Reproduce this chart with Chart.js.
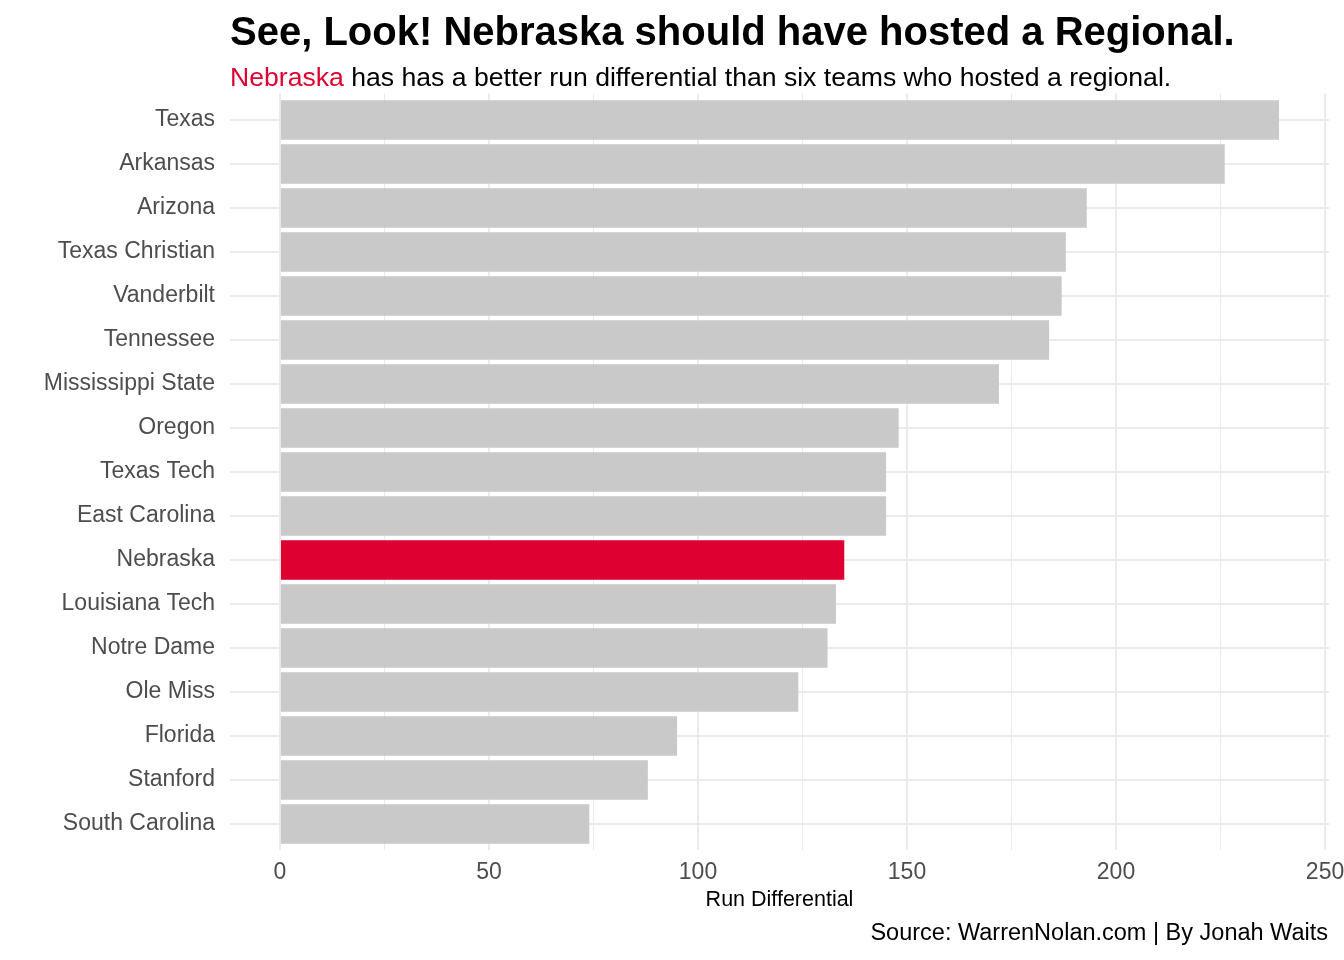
<!DOCTYPE html>
<html>
<head>
<meta charset="utf-8">
<script src="https://cdn.jsdelivr.net/npm/chart.js@4"></script>
<style>
  body { margin: 0; background: #fff; font-family: "Liberation Sans", Arial, sans-serif; }
  #wrap { position: relative; width: 1344px; height: 960px; }
  #chart { position: absolute; left: 0; top: 0; }
  .txt { position: absolute; white-space: nowrap; line-height: 1; }
  #title { left: 230px; top: 11px; font-size: 40px; font-weight: bold; color: #000; }
  #subtitle { left: 230px; top: 64px; font-size: 26.6px; color: #000; }
  #subtitle span { color: #dd0031; }
  #caption { right: 16px; top: 921px; font-size: 23.5px; color: #000; }
</style>
</head>
<body>
<div id="wrap">
  <canvas id="chart" width="1344" height="960"></canvas>
  <div class="txt" id="title">See, Look! Nebraska should have hosted a Regional.</div>
  <div class="txt" id="subtitle"><span>Nebraska</span> has has a better run differential than six teams who hosted a regional.</div>
  <div class="txt" id="caption">Source: WarrenNolan.com | By Jonah Waits</div>
</div>
<script>
const teams = ['Texas', 'Arkansas', 'Arizona', 'Texas Christian', 'Vanderbilt', 'Tennessee',
    'Mississippi State', 'Oregon', 'Texas Tech', 'East Carolina', 'Nebraska', 'Louisiana Tech',
    'Notre Dame', 'Ole Miss', 'Florida', 'Stanford', 'South Carolina'];
const runDiff = [239, 226, 193, 188, 187, 184, 172, 148, 145, 145, 135, 133, 131, 124, 95, 88, 74];
const xTicks = [0, 25, 50, 75, 100, 125, 150, 175, 200, 225, 250];
const labelledTicks = [0, 50, 100, 150, 200, 250];
const highlight = 'Nebraska';

const grey = '#c9c9c9';
const red = '#dd0031';
const gridColor = '#ebebeb';

// ggplot-style 5% expansion on the value axis
const maxVal = Math.max(...runDiff);
const pad = maxVal * 0.05;

const ctx = document.getElementById('chart').getContext('2d');
new Chart(ctx, {
    type: 'bar',
    data: {
        datasets: [{
            data: teams.map((t, i) => ({ x: runDiff[i], y: i })),
            backgroundColor: teams.map(t => t === highlight ? red : grey),
            borderWidth: 0,
            barPercentage: 0.9,
            categoryPercentage: 1.0
        }]
    },
    options: {
        indexAxis: 'y',
        responsive: false,
        animation: false,
        layout: { padding: { top: 93.6, right: 15, bottom: 29.6, left: 0 } },
        plugins: { legend: { display: false }, tooltip: { enabled: false } },
        scales: {
            x: {
                type: 'linear',
                min: -pad,
                max: maxVal + pad,
                afterBuildTicks: scale => { scale.ticks = xTicks.map(v => ({ value: v })); },
                afterFit: scale => {
                    scale.height = 80;
                    // let the last tick label hang past the plot like ggplot does
                    scale.paddingRight = 0;
                    scale.paddingLeft = 0;
                },
                border: { display: false },
                grid: {
                    color: gridColor,
                    lineWidth: c => (c.tick && labelledTicks.includes(c.tick.value)) ? 2 : 1,
                    drawTicks: false
                },
                ticks: {
                    autoSkip: false,
                    maxRotation: 0,
                    padding: 8,
                    color: '#4d4d4d',
                    font: { family: 'Liberation Sans', size: 23 },
                    callback: v => labelledTicks.includes(v) ? String(v) : ''
                },
                title: {
                    display: true,
                    text: 'Run Differential',
                    color: '#000',
                    font: { family: 'Liberation Sans', size: 21.5 },
                    padding: { top: 0, bottom: 17 }
                }
            },
            y: {
                type: 'linear',
                reverse: true,
                offset: false,
                min: -0.6,
                max: teams.length - 1 + 0.6,
                afterBuildTicks: scale => { scale.ticks = teams.map((t, i) => ({ value: i })); },
                afterFit: scale => { scale.width = 230; },
                border: { display: false },
                grid: { color: gridColor, lineWidth: 2, drawTicks: false, offset: false },
                ticks: {
                    autoSkip: false,
                    padding: 15,
                    color: '#4d4d4d',
                    font: { family: 'Liberation Sans', size: 23 },
                    callback: v => teams[v]
                }
            }
        }
    }
});
</script>
</body>
</html>
